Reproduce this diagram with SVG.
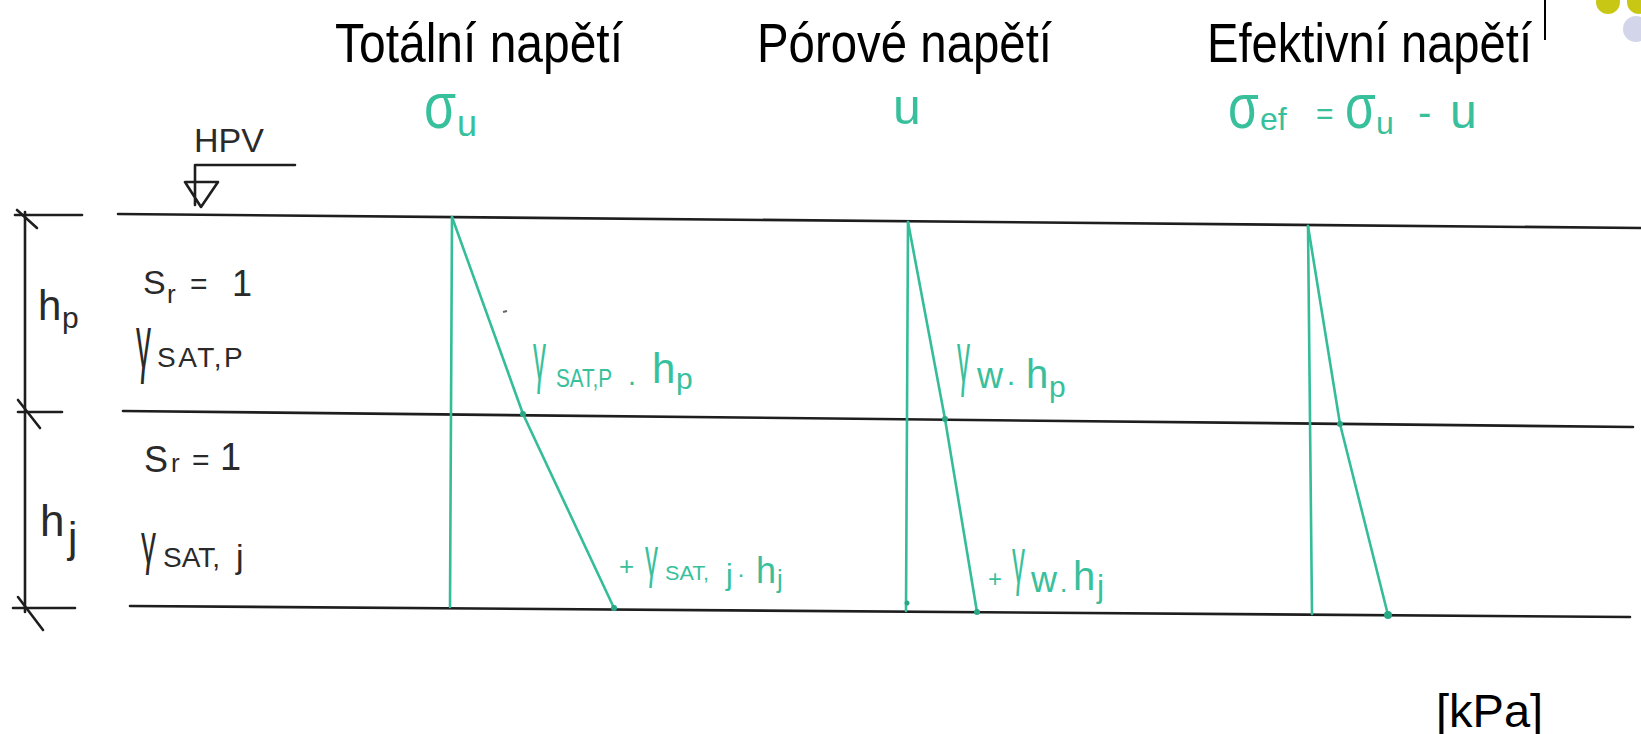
<svg xmlns="http://www.w3.org/2000/svg" width="1641" height="734" viewBox="0 0 1641 734">
<style>
.title{font-family:"Liberation Sans",Arial,sans-serif;font-size:50px;fill:#000}
.hand{font-family:"Liberation Sans",Arial,sans-serif;fill:#2a2a2a}
.grn{font-family:"Liberation Sans",Arial,sans-serif;fill:#38c09c}
.bl{stroke:#1e1e1e;stroke-width:2.6;fill:none;stroke-linecap:round;stroke-linejoin:round}
.gl{stroke:#34bd98;stroke-width:2.6;fill:none;stroke-linecap:round;stroke-linejoin:round}
.gd{fill:#2aa886}
</style>
<rect width="1641" height="734" fill="#ffffff"/>

<g id="decor">
<line x1="1545" y1="0" x2="1545" y2="40" stroke="#000" stroke-width="2"/>
<circle cx="1608" cy="2" r="12" fill="#c8c814"/>
<circle cx="1639" cy="2" r="12" fill="#c8c814"/>
<circle cx="1636" cy="29" r="13" fill="#d3d5ea"/>
</g>

<g id="title-total"><text class="title" transform="translate(335,62) scale(1,1.1)" textLength="288" lengthAdjust="spacingAndGlyphs">Totální napětí</text></g>
<g id="title-pore"><text class="title" transform="translate(757,62) scale(1,1.1)" textLength="295" lengthAdjust="spacingAndGlyphs">Pórové napětí</text></g>
<g id="title-eff"><text class="title" transform="translate(1207,62) scale(1,1.1)" textLength="325" lengthAdjust="spacingAndGlyphs">Efektivní napětí</text></g>

<g id="label-sigma-u">
<text class="grn" font-size="52" transform="translate(424,128) scale(1,1.25)">σ</text>
<text class="grn" font-size="36" x="457" y="136">u</text>
</g>
<g id="label-u">
<text class="grn" font-size="50" x="893" y="124">u</text>
</g>
<g id="label-sigma-ef">
<text class="grn" font-size="50" transform="translate(1228,128) scale(1,1.25)">σ</text>
<text class="grn" font-size="32" x="1260" y="130">ef</text>
<text class="grn" font-size="30" x="1316" y="124">=</text>
<text class="grn" font-size="50" transform="translate(1345,128) scale(1,1.25)">σ</text>
<text class="grn" font-size="32" x="1376" y="134">u</text>
<text class="grn" font-size="40" x="1418" y="126">-</text>
<text class="grn" font-size="48" x="1450" y="128">u</text>
</g>

<g id="hpv">
<text class="hand" x="194" y="152" font-size="34" textLength="70">HPV</text>
<path class="bl" d="M195,165 H295 M195,165 V205 M185,182 H218 L201,207 Z"/>
</g>

<g id="layers">
<line class="bl" x1="118" y1="214" x2="1641" y2="228"/>
<line class="bl" x1="123" y1="411" x2="1633" y2="427"/>
<line class="bl" x1="130" y1="606" x2="1630" y2="617"/>
</g>

<g id="dimension">
<line class="bl" x1="25" y1="212" x2="25" y2="612"/>
<line class="bl" x1="15" y1="215" x2="82" y2="215"/>
<line class="bl" x1="17" y1="210" x2="37" y2="228"/>
<line class="bl" x1="18" y1="412" x2="62" y2="412"/>
<line class="bl" x1="18" y1="400" x2="40" y2="428"/>
<line class="bl" x1="13" y1="608" x2="75" y2="608"/>
<line class="bl" x1="18" y1="597" x2="43" y2="630"/>
</g>

<g id="label-hp">
<text class="hand" font-size="42" x="38" y="320">h</text>
<text class="hand" font-size="30" x="62" y="328">p</text>
</g>
<g id="label-hj">
<text class="hand" font-size="44" x="40" y="536">h</text>
<text class="hand" font-size="42" x="68" y="552">j</text>
</g>

<g id="layer-p">
<text class="hand" font-size="34" x="143" y="294">S</text>
<text class="hand" font-size="26" x="167" y="303">r</text>
<text class="hand" font-size="30" x="190" y="294">=</text>
<text class="hand" font-size="36" x="232" y="296">1</text>
<text class="hand" font-size="40" transform="translate(136,368) scale(0.75,1.9)">γ</text>
<text class="hand" font-size="28" x="157" y="367" letter-spacing="2.5">SAT,P</text>
</g>
<g id="layer-j">
<text class="hand" font-size="36" x="144" y="472">S</text>
<text class="hand" font-size="26" x="171" y="472">r</text>
<text class="hand" font-size="30" x="192" y="470">=</text>
<text class="hand" font-size="38" x="220" y="470">1</text>
<text class="hand" font-size="40" transform="translate(141,563) scale(0.75,1.45)">γ</text>
<text class="hand" font-size="28" x="163" y="567">SAT,</text>
<text class="hand" font-size="34" x="236" y="568">j</text>
</g>

<g id="diagram-total">
<line class="gl" x1="452" y1="217" x2="450" y2="607"/>
<polyline class="gl" points="452,217 523,414 614,608"/>
<circle class="gd" cx="523" cy="414" r="3"/>
<circle class="gd" cx="614" cy="608" r="3"/>
<line x1="503" y1="312" x2="507" y2="311" stroke="#666" stroke-width="2"/>
<text class="grn" font-size="40" transform="translate(533,380) scale(0.65,1.7)">γ</text>
<text class="grn" font-size="25" x="556" y="387" textLength="56" lengthAdjust="spacingAndGlyphs">SAT,P</text>
<text class="grn" font-size="30" x="627" y="391">·</text>
<text class="grn" font-size="42" x="652" y="383">h</text>
<text class="grn" font-size="30" x="676" y="389">p</text>
<text class="grn" font-size="26" x="619" y="575">+</text>
<text class="grn" font-size="40" transform="translate(645,576) scale(0.65,1.4)">γ</text>
<text class="grn" font-size="20" x="665" y="580" textLength="44" lengthAdjust="spacingAndGlyphs">SAT,</text>
<text class="grn" font-size="30" x="726" y="585">j</text>
<text class="grn" font-size="24" x="737" y="582">·</text>
<text class="grn" font-size="36" x="756" y="583">h</text>
<text class="grn" font-size="26" x="777" y="588">j</text>
</g>

<g id="diagram-pore">
<line class="gl" x1="908" y1="222" x2="906" y2="611"/>
<polyline class="gl" points="908,222 945,419 977,612"/>
<circle class="gd" cx="945" cy="419" r="3"/>
<circle class="gd" cx="977" cy="612" r="3"/>
<circle class="gd" cx="907" cy="603" r="2.5"/>
<text class="grn" font-size="40" transform="translate(957,382) scale(0.65,1.8)">γ</text>
<text class="grn" font-size="36" x="977" y="388">w</text>
<text class="grn" font-size="30" x="1006" y="391">·</text>
<text class="grn" font-size="40" x="1026" y="388">h</text>
<text class="grn" font-size="30" x="1049" y="397">p</text>
<text class="grn" font-size="24" x="988" y="587">+</text>
<text class="grn" font-size="40" transform="translate(1012,583) scale(0.65,1.6)">γ</text>
<text class="grn" font-size="36" x="1031" y="592">w</text>
<text class="grn" font-size="28" x="1059" y="598">·</text>
<text class="grn" font-size="40" x="1073" y="590">h</text>
<text class="grn" font-size="32" x="1097" y="597">j</text>
</g>

<g id="diagram-effective">
<line class="gl" x1="1308" y1="226" x2="1312" y2="614"/>
<polyline class="gl" points="1308,226 1340,424 1388,615"/>
<circle class="gd" cx="1340" cy="424" r="3"/>
<circle class="gd" cx="1388" cy="615" r="4"/>
</g>

<g id="unit"><text class="title" x="1436" y="727" style="font-size:47px">[kPa]</text></g>
</svg>
